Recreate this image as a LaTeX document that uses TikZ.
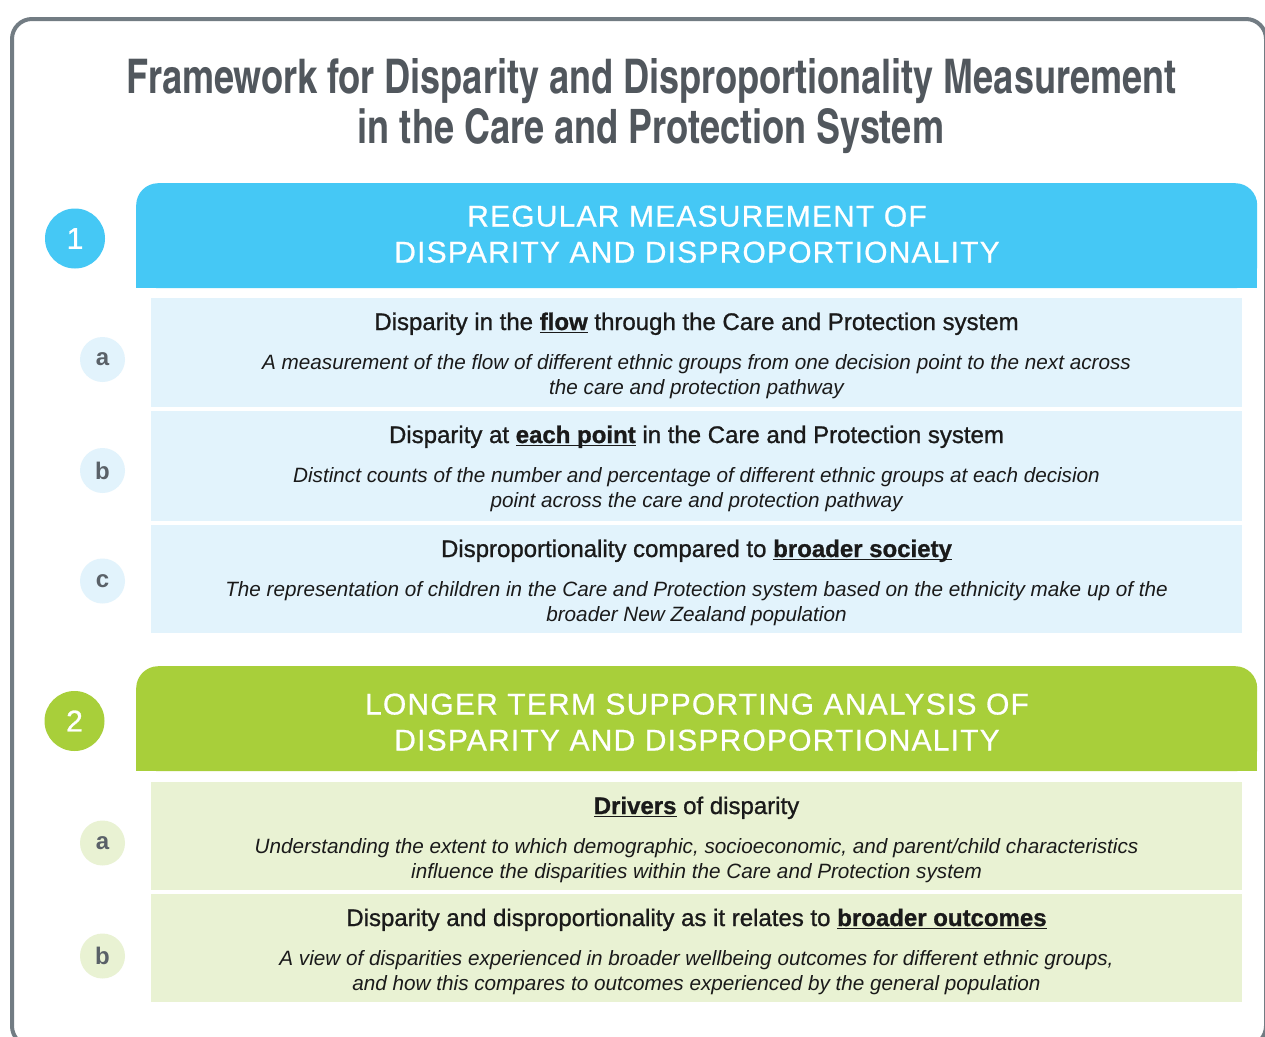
\documentclass[tikz,border=0pt]{standalone}
\usepackage{fontspec}
\setmainfont{Liberation Sans}
\newfontfamily\titlefont{texgyreheroscn-bold.otf}
\newfontfamily\headfont[LetterSpace=4,FakeBold=0.6]{Liberation Sans}
\newfontfamily\medfont[FakeBold=1.0]{Liberation Sans}

\definecolor{framegray}{HTML}{727C83}
\definecolor{titlegray}{HTML}{51575D}
\definecolor{blueA}{HTML}{45C8F5}
\definecolor{blueB}{HTML}{E2F3FC}
\definecolor{greenA}{HTML}{A8CF3A}
\definecolor{greenB}{HTML}{E9F2D3}
\definecolor{lettergray}{HTML}{5A6168}
\definecolor{ink}{HTML}{1A1A1A}

% bold underlined keyword
\newcommand\keyword[1]{\setbox0=\hbox{\bfseries #1}\rlap{\rule[-3.4pt]{\wd0}{1.8pt}}\box0\relax}

\tikzset{
  headbar/.style={rounded corners=22pt, inner sep=0pt, minimum width=1121pt, minimum height=105pt, anchor=north west},
  itembox/.style={inner sep=0pt, minimum width=1091pt, minimum height=109pt, anchor=north west},
  bignum/.style={circle, inner sep=0pt, minimum size=60pt, text=white, font=\medfont\fontsize{30}{30}\selectfont},
  smallnum/.style={circle, inner sep=0pt, minimum size=45pt, text=lettergray, font=\fontsize{24}{24}\selectfont\bfseries},
  headtext/.style={anchor=base, text=white, font=\headfont\fontsize{30}{30}\selectfont},
  itemtitle/.style={anchor=base, text=ink, font=\medfont\fontsize{24}{24}\selectfont},
  itemdesc/.style={anchor=base, text=ink, font=\fontsize{20.7}{20.7}\selectfont\itshape},
}

\begin{document}
\begin{tikzpicture}[x=1pt,y=-1pt]
\useasboundingbox (0,0) rectangle (1265,1036);
\fill[white] (0,0) rectangle (1265,1036);

% outer frame, running past the right and bottom edges
\draw[framegray, line width=4pt, rounded corners=20pt] (12,19) rectangle (1266,1046);

% title
\node[anchor=base, text=titlegray, inner sep=0pt] (title1) at (651.5,93)
  {\resizebox{1049pt}{35pt}{\titlefont Framework for Disparity and Disproportionality Measurement}};
\node[anchor=base, text=titlegray, inner sep=0pt] (title2) at (651,143)
  {\resizebox{586pt}{35pt}{\titlefont in the Care and Protection System}};

% ---------- section 1 ----------
\node[headbar, fill=blueA] (h1) at (136,183) {};
\fill[blueA] (h1.west) rectangle (h1.south east);
\node[headtext] (h1a) at (697,226.5) {REGULAR MEASUREMENT OF};
\node[headtext] (h1b) at (697,262.5) {DISPARITY AND DISPROPORTIONALITY};
\node[bignum, fill=blueA] (n1) at (75,238.5) {1};

\node[itembox, fill=blueB] (b1a) at (151,298) {};
\node[itembox, fill=blueB, minimum height=110pt] (b1b) at (151,411) {};
\node[itembox, fill=blueB, minimum height=108pt] (b1c) at (151,525) {};

\node[smallnum, fill=blueB] (c1a) at (102.5,359.5) {a};
\node[smallnum, fill=blueB] (c1b) at (102.5,470.5) {b};
\node[smallnum, fill=blueB] (c1c) at (102.5,581) {c};

\node[itemtitle] (t1a) at (696.5,330) {Disparity in the \keyword{flow} through the Care and Protection system};
\node[itemdesc] (d1a1) at (696.5,369) {A measurement of the flow of different ethnic groups from one decision point to the next across};
\node[itemdesc] (d1a2) at (696.5,394) {the care and protection pathway};

\node[itemtitle] (t1b) at (696.5,443) {Disparity at \keyword{each point} in the Care and Protection system};
\node[itemdesc] (d1b1) at (696.5,482) {Distinct counts of the number and percentage of different ethnic groups at each decision};
\node[itemdesc] (d1b2) at (696.5,507) {point across the care and protection pathway};

\node[itemtitle] (t1c) at (696.5,557) {Disproportionality compared to \keyword{broader society}};
\node[itemdesc] (d1c1) at (696.5,596) {The representation of children in the Care and Protection system based on the ethnicity make up of the};
\node[itemdesc] (d1c2) at (696.5,621) {broader New Zealand population};

% ---------- section 2 ----------
\node[headbar, fill=greenA] (h2) at (136,666) {};
\fill[greenA] (h2.west) rectangle (h2.south east);
\node[headtext] (h2a) at (697,714.5) {LONGER TERM SUPPORTING ANALYSIS OF};
\node[headtext] (h2b) at (697,750.5) {DISPARITY AND DISPROPORTIONALITY};
\node[bignum, fill=greenA] (n2) at (74.5,721) {2};

\node[itembox, fill=greenB, minimum height=108pt] (b2a) at (151,782) {};
\node[itembox, fill=greenB, minimum height=108pt] (b2b) at (151,894) {};

\node[smallnum, fill=greenB] (c2a) at (102.5,843) {a};
\node[smallnum, fill=greenB] (c2b) at (102.5,956) {b};

\node[itemtitle] (t2a) at (696.5,814) {\keyword{Drivers} of disparity};
\node[itemdesc] (d2a1) at (696.5,853) {Understanding the extent to which demographic, socioeconomic, and parent/child characteristics};
\node[itemdesc] (d2a2) at (696.5,878) {influence the disparities within the Care and Protection system};

\node[itemtitle] (t2b) at (696.5,926) {Disparity and disproportionality as it relates to \keyword{broader outcomes}};
\node[itemdesc] (d2b1) at (696.5,965) {A view of disparities experienced in broader wellbeing outcomes for different ethnic groups,};
\node[itemdesc] (d2b2) at (696.5,990) {and how this compares to outcomes experienced by the general population};
\end{tikzpicture}
\end{document}
